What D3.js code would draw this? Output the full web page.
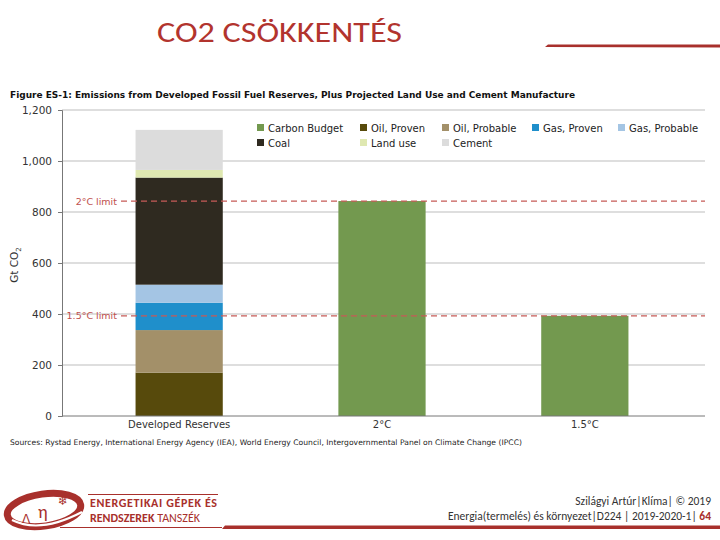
<!DOCTYPE html>
<html>
<head>
<meta charset="utf-8">
<script src="https://cdn.jsdelivr.net/npm/d3@7"></script>
<style>
  body { margin: 0; background: #fff; }
  svg { display: block; }
</style>
</head>
<body>
<div id="chart"></div>
<script>
// data
const categories = ["Developed Reserves", "2°C", "1.5°C"];
const oilProven = [170, 0, 0];
const oilProbable = [167, 0, 0];
const gasProven = [107, 0, 0];
const gasProbable = [71, 0, 0];
const coal = [420, 0, 0];
const landUse = [30, 0, 0];
const cement = [157, 0, 0];
const carbonBudget = [0, 843, 393];
const stackOrder = ["Oil, Proven", "Oil, Probable", "Gas, Proven", "Gas, Probable", "Coal", "Land use", "Cement", "Carbon Budget"];
const legendOrder = ["Carbon Budget", "Coal", "Oil, Proven", "Land use", "Oil, Probable", "Cement", "Gas, Proven", "Gas, Probable"];
const yTicks = [0, 200, 400, 600, 800, 1000, 1200];
const limitLabels = ["2°C limit", "1.5°C limit"];
const limitValues = [843, 393];

const colors = {
    "Carbon Budget": "#73994f",
    "Oil, Proven": "#574a0c",
    "Oil, Probable": "#a39069",
    "Gas, Proven": "#1f8fcb",
    "Gas, Probable": "#a4c5e4",
    "Coal": "#2f2a20",
    "Land use": "#dfe8b1",
    "Cement": "#dcdcdc"
};

const seriesValues = {
    "Oil, Proven": oilProven, "Oil, Probable": oilProbable, "Gas, Proven": gasProven,
    "Gas, Probable": gasProbable, "Coal": coal, "Land use": landUse, "Cement": cement,
    "Carbon Budget": carbonBudget
};
const table = categories.map(function (c, i) {
    var row = { category: c };
    stackOrder.forEach(function (k) { row[k] = seriesValues[k][i]; });
    return row;
});

const chartFont = "'DejaVu Sans', Verdana, sans-serif";
const slideFont = "Carlito, 'Liberation Sans', Arial, sans-serif";
const red = "#a8302c";

var svg = d3.select("#chart").append("svg")
    .attr("width", 720)
    .attr("height", 540);

// slide header
svg.append("text")
    .attr("x", 157).attr("y", 42)
    .attr("textLength", 245)
    .attr("lengthAdjust", "spacingAndGlyphs")
    .style("font-family", slideFont)
    .style("font-size", "28px")
    .style("fill", "#b2342e")
    .text("CO2 CSÖKKENTÉS");

svg.append("path")
    .attr("d", "M545,47 L548,44.5 L720,44.5 L720,47.5 Z")
    .attr("fill", red);

// figure title
svg.append("text")
    .attr("x", 10).attr("y", 98)
    .attr("textLength", 565)
    .style("font-family", chartFont)
    .style("font-weight", "bold")
    .style("font-size", "9px")
    .style("fill", "#111")
    .text("Figure ES-1: Emissions from Developed Fossil Fuel Reserves, Plus Projected Land Use and Cement Manufacture");

const left = 62, right = 705;
var x = d3.scaleBand().domain(categories).range([left, right])
    .paddingInner(0.57).paddingOuter(0.37).align(0.49);
var y = d3.scaleLinear().domain([0, 1200]).range([416, 110]);

// gridlines
svg.append("g").selectAll("line")
    .data(yTicks.filter(function (d) { return d > 0; }))
    .enter().append("line")
    .attr("x1", left).attr("x2", right)
    .attr("y1", function (d) { return y(d); })
    .attr("y2", function (d) { return y(d); })
    .attr("stroke", "#bdbdbd")
    .attr("stroke-width", 1);

// y axis
var yAxis = svg.append("g")
    .attr("transform", "translate(" + left + ",0)")
    .call(d3.axisLeft(y).tickValues(yTicks).tickFormat(d3.format(",")).tickSize(4).tickPadding(6));
yAxis.select(".domain").attr("stroke", "#777");
yAxis.selectAll(".tick line").attr("stroke", "#777");
yAxis.selectAll("text")
    .style("font-family", chartFont)
    .style("font-size", "10.5px")
    .style("fill", "#333");

svg.append("text")
    .attr("transform", "translate(18,265) rotate(-90)")
    .attr("text-anchor", "middle")
    .style("font-family", chartFont)
    .style("font-size", "10.5px")
    .style("fill", "#333")
    .text("Gt CO")
    .append("tspan")
    .attr("dy", 3)
    .style("font-size", "7px")
    .text("2");

// stacked bars
var stack = d3.stack().keys(stackOrder)(table);
svg.append("g").selectAll("g")
    .data(stack)
    .enter().append("g")
    .attr("fill", function (d) { return colors[d.key]; })
    .selectAll("rect")
    .data(function (d) { return d; })
    .enter().append("rect")
    .attr("x", function (d) { return x(d.data.category); })
    .attr("y", function (d) { return y(d[1]); })
    .attr("width", x.bandwidth())
    .attr("height", function (d) { return y(d[0]) - y(d[1]); });

// x axis
var xAxis = svg.append("g")
    .attr("transform", "translate(0," + y(0) + ")")
    .call(d3.axisBottom(x).tickSize(0).tickPadding(5));
xAxis.select(".domain").attr("d", "M" + left + ",0H" + right).attr("stroke", "#777");
xAxis.selectAll("text")
    .style("font-family", chartFont)
    .style("font-size", "10px")
    .style("fill", "#333");

// limit lines
limitValues.forEach(function (v, i) {
    svg.append("line")
        .attr("x1", 121).attr("x2", right)
        .attr("y1", y(v)).attr("y2", y(v))
        .attr("stroke", "#c65b57")
        .attr("stroke-width", 1.2)
        .attr("stroke-dasharray", "6,4");
    svg.append("text")
        .attr("x", 117).attr("y", y(v) + 3.5)
        .attr("text-anchor", "end")
        .style("font-family", chartFont)
        .style("font-size", "9.5px")
        .style("fill", "#c0504d")
        .text(limitLabels[i]);
});

// legend
const legendX = [257, 257, 360, 360, 442, 442, 532, 618];
const legendY = [128, 143, 128, 143, 128, 143, 128, 128];
var legend = svg.append("g").selectAll("g")
    .data(legendOrder)
    .enter().append("g")
    .attr("transform", function (d, i) {
        return "translate(" + legendX[i] + "," + legendY[i] + ")";
    });
legend.append("rect")
    .attr("x", 0).attr("y", -4)
    .attr("width", 7).attr("height", 7)
    .attr("fill", function (d) { return colors[d]; });
legend.append("text")
    .attr("x", 11).attr("y", 3.5)
    .style("font-family", chartFont)
    .style("font-size", "10px")
    .style("fill", "#222")
    .text(function (d) { return d; });

// sources
svg.append("text")
    .attr("x", 10).attr("y", 445)
    .attr("textLength", 512)
    .style("font-family", chartFont)
    .style("font-size", "7.6px")
    .style("fill", "#222")
    .text("Sources: Rystad Energy, International Energy Agency (IEA), World Energy Council, Intergovernmental Panel on Climate Change (IPCC)");

// footer logo
var logo = svg.append("g");
logo.append("ellipse")
    .attr("cx", 44).attr("cy", 510)
    .attr("rx", 37).attr("ry", 16)
    .attr("transform", "rotate(-8,44,510)")
    .attr("fill", "none")
    .attr("stroke", red)
    .attr("stroke-width", 7);
logo.append("path")
    .attr("d", "M12,520 Q40,534 82,512")
    .attr("fill", "none").attr("stroke", "#fff").attr("stroke-width", 2);
logo.append("text")
    .attr("x", 22).attr("y", 523)
    .style("font-family", slideFont).style("font-size", "12px").style("fill", red)
    .text("ᐱ");
logo.append("text")
    .attr("x", 38).attr("y", 518)
    .style("font-family", slideFont).style("font-size", "18px").style("fill", red)
    .text("η");
logo.append("text")
    .attr("x", 58).attr("y", 505)
    .style("font-family", chartFont).style("font-size", "12px").style("fill", red)
    .text("❄");
logo.append("line")
    .attr("x1", 88).attr("x2", 218).attr("y1", 494.5).attr("y2", 494.5)
    .attr("stroke", red).attr("stroke-width", 1);
logo.append("text")
    .attr("x", 90).attr("y", 507)
    .attr("textLength", 127)
    .style("font-family", slideFont).style("font-weight", "bold")
    .style("font-size", "12px").style("fill", red)
    .text("ENERGETIKAI GÉPEK ÉS");
var l2 = logo.append("text")
    .attr("x", 90).attr("y", 522)
    .style("font-family", slideFont)
    .style("font-size", "12px").style("fill", red);
l2.append("tspan").style("font-weight", "bold").text("RENDSZEREK ");
l2.append("tspan").text("TANSZÉK");

svg.append("path")
    .attr("d", "M222,529 L225,525.5 L720,525.5 L720,529 Z")
    .attr("fill", red);
svg.append("line")
    .attr("x1", 60).attr("x2", 222).attr("y1", 527.5).attr("y2", 527.5)
    .attr("stroke", red).attr("stroke-width", 1);

// footer text
svg.append("text")
    .attr("x", 711).attr("y", 505)
    .attr("text-anchor", "end")
    .style("font-family", slideFont)
    .style("font-size", "11.5px")
    .style("fill", "#333")
    .text("Szilágyi Artúr|Klíma| © 2019");
var f2 = svg.append("text")
    .attr("x", 711).attr("y", 520)
    .attr("text-anchor", "end")
    .style("font-family", slideFont)
    .style("font-size", "11.5px")
    .style("fill", "#333");
f2.append("tspan").text("Energia(termelés) és környezet|D224 | 2019-2020-1| ");
f2.append("tspan").style("font-weight", "bold").style("fill", red).text("64");
</script>
</body>
</html>
